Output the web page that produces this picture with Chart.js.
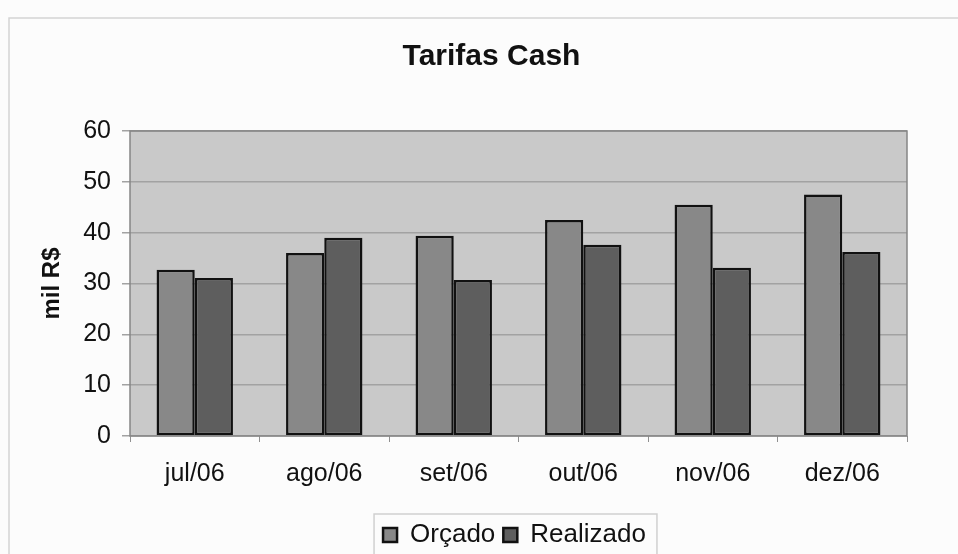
<!DOCTYPE html>
<html>
<head>
<meta charset="utf-8">
<script src="https://cdn.jsdelivr.net/npm/chart.js@4.4.1/dist/chart.umd.min.js"></script>
<style>
  html, body { margin: 0; padding: 0; background: #fcfcfc; }
  #wrap { width: 958px; height: 554px; }
</style>
</head>
<body>
<div id="wrap"><canvas id="tarifasChart" width="958" height="554"></canvas></div>
<script>
// dados
const meses = ['jul/06', 'ago/06', 'set/06', 'out/06', 'nov/06', 'dez/06'];
const orcado = [32.7, 36.0, 39.4, 42.5, 45.5, 47.5];
const realizado = [31.1, 39.0, 30.7, 37.6, 33.1, 36.2];
const yTicks = [0, 10, 20, 30, 40, 50, 60];

const fonte = "'Liberation Sans', Arial, sans-serif";

// fundo cinza da área do gráfico + moldura externa
const fundoPlot = {
    id: 'fundoPlot',
    beforeDraw(chart) {
        const { ctx, chartArea: a } = chart;
        ctx.save();
        ctx.strokeStyle = '#d4d4d4';
        ctx.lineWidth = 1.5;
        ctx.beginPath();
        ctx.moveTo(9, chart.height);
        ctx.lineTo(9, 18);
        ctx.lineTo(chart.width, 18);
        ctx.stroke();
        ctx.fillStyle = '#c9c9c9';
        ctx.fillRect(a.left, a.top, a.right - a.left, a.bottom - a.top);
        ctx.restore();
    },
    afterDraw(chart) {
        const { ctx, chartArea: a } = chart;
        ctx.save();
        ctx.strokeStyle = '#858585';
        ctx.lineWidth = 1.5;
        ctx.strokeRect(a.left, a.top, a.right - a.left, a.bottom - a.top);
        // borda da legenda
        const boxes = chart.legend.legendHitBoxes;
        if (boxes.length) {
            const l = Math.min(...boxes.map(b => b.left)) - 9;
            const r = Math.max(...boxes.map(b => b.left + b.width)) + 11;
            const t = chart.legend.top;
            ctx.strokeStyle = '#d0d0d0';
            ctx.lineWidth = 1.5;
            ctx.beginPath();
            ctx.moveTo(l, chart.height);
            ctx.lineTo(l, t);
            ctx.lineTo(r, t);
            ctx.lineTo(r, chart.height);
            ctx.stroke();
        }
        ctx.restore();
    },
    afterLayout(chart) {
        // desloca título e legenda para a posição usada no original
        const tb = chart.titleBlock;
        tb.left += 33; tb.right += 33;
        const lg = chart.legend;
        lg.left += 56; lg.right += 56;
        lg.top += 4; lg.bottom += 4;
    }
};

const ctx = document.getElementById('tarifasChart').getContext('2d');
new Chart(ctx, {
    type: 'bar',
    data: {
        labels: meses,
        datasets: [
            {
                label: 'Orçado',
                data: orcado,
                backgroundColor: '#888888',
                borderColor: '#111111',
                borderWidth: 2.5,
                borderSkipped: false
            },
            {
                label: 'Realizado',
                data: realizado,
                backgroundColor: '#5e5e5e',
                borderColor: '#111111',
                borderWidth: 2.5,
                borderSkipped: false
            }
        ]
    },
    options: {
        responsive: false,
        animation: false,
        devicePixelRatio: 1,
        layout: { padding: { left: 10, right: 51, top: 0, bottom: 0 } },
        datasets: {
            bar: { categoryPercentage: 0.59, barPercentage: 1.0 }
        },
        plugins: {
            title: {
                display: true,
                text: 'Tarifas Cash',
                color: '#111',
                font: { family: fonte, size: 30, weight: 'bold' },
                padding: { top: 39, bottom: 56 }
            },
            legend: {
                display: true,
                position: 'bottom',
                labels: {
                    color: '#111',
                    font: { family: fonte, size: 26 },
                    boxWidth: 14,
                    boxHeight: 14,
                    padding: 8
                }
            },
            tooltip: { enabled: false }
        },
        scales: {
            x: {
                afterFit: s => { s.height = 74; },
                grid: {
                    display: true,
                    drawOnChartArea: false,
                    drawTicks: true,
                    tickLength: 6,
                    color: '#909090'
                },
                border: { display: false },
                ticks: {
                    color: '#111',
                    font: { family: fonte, size: 25 },
                    padding: 17
                }
            },
            y: {
                min: 0,
                max: 60,
                afterFit: s => { s.width = 120; },
                afterBuildTicks: s => { s.ticks = yTicks.map(v => ({ value: v })); },
                grid: {
                    color: '#a2a2a2',
                    lineWidth: 1.5,
                    tickLength: 8
                },
                border: { display: false },
                ticks: {
                    color: '#111',
                    font: { family: fonte, size: 25 },
                    padding: 11
                },
                title: {
                    display: true,
                    text: 'mil R$',
                    color: '#111',
                    font: { family: fonte, size: 24, weight: 'bold' },
                    padding: { top: 28, bottom: 0 }
                }
            }
        }
    },
    plugins: [fundoPlot]
});
</script>
</body>
</html>
